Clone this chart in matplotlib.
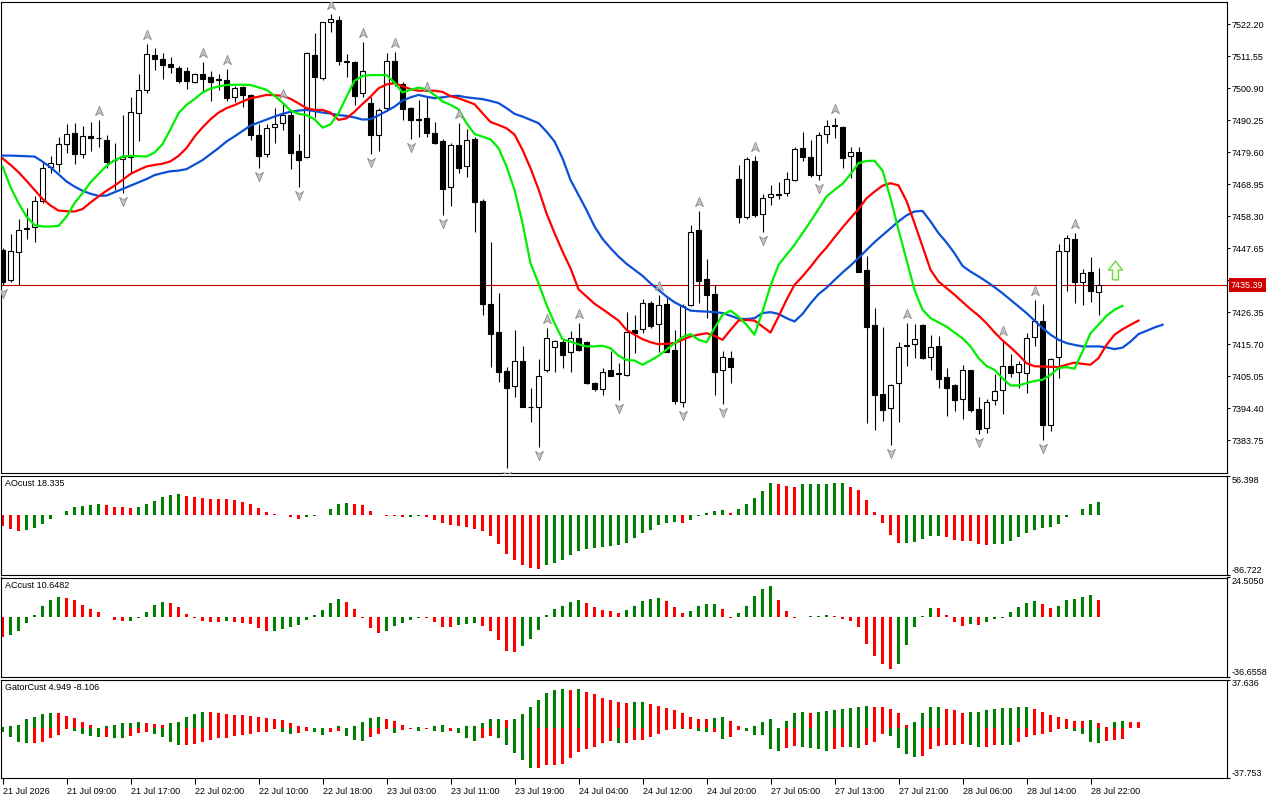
import numpy as np
import matplotlib
matplotlib.use("Agg")
import matplotlib.pyplot as plt
from matplotlib.path import Path
from matplotlib.transforms import blended_transform_factory, offset_copy

plt.rcParams['font.family'] = ['Liberation Sans', 'DejaVu Sans']
plt.rcParams['font.size'] = 6.5

# ---- H1 candles (bar 0 = 21 Jul 01:00) ----
opens = [7447.1, 7437.1, 7446.4, 7454.3, 7454.6, 7463.3, 7474.6, 7475.6, 7482.3, 7485.9,
         7479.2, 7484.9, 7484.4, 7483.7, 7477.1, 7477.3, 7478.2, 7492.6, 7500.4, 7512.0,
         7510.6, 7509.0, 7507.8, 7506.7, 7502.9, 7505.7, 7504.6, 7503.9, 7503.7, 7497.9,
         7501.2, 7498.7, 7485.4, 7479.0, 7487.9, 7489.3, 7492.0, 7480.1, 7478.2, 7512.0,
         7504.2, 7522.9, 7523.6, 7509.9, 7509.8, 7499.3, 7495.9, 7485.5, 7494.2, 7510.0,
         7502.2, 7494.5, 7490.7, 7490.9, 7485.9, 7483.4, 7467.9, 7482.1, 7474.9, 7484.1,
         7463.4, 7429.1, 7419.8, 7406.9, 7401.7, 7410.2, 7394.9, 7395.0, 7407.2, 7414.7,
         7416.6, 7413.1, 7417.7, 7416.6, 7402.8, 7400.8, 7407.0, 7406.0, 7405.5, 7420.5,
         7420.7, 7429.4, 7422.4, 7429.1, 7413.9, 7396.4, 7428.8, 7453.8, 7437.4, 7432.4,
         7407.2, 7411.1, 7470.7, 7458.0, 7476.7, 7459.0, 7464.6, 7465.8, 7466.0, 7470.4,
         7481.0, 7478.0, 7471.9, 7485.6, 7488.7, 7487.9, 7478.4, 7479.6, 7440.5, 7422.2,
         7399.1, 7394.5, 7402.8, 7415.4, 7415.7, 7422.0, 7411.4, 7415.2, 7404.8, 7402.0,
         7397.4, 7407.2, 7394.2, 7387.8, 7397.0, 7400.6, 7408.5, 7406.4, 7406.1, 7418.0,
         7423.5, 7388.7, 7411.4, 7446.9, 7450.7, 7436.6, 7439.7, 7433.0]
highs = [7447.7, 7452.3, 7457.3, 7461.0, 7464.9, 7476.3, 7478.4, 7484.8, 7488.9, 7489.5,
         7488.4, 7489.8, 7490.3, 7485.3, 7482.6, 7492.0, 7498.1, 7505.7, 7515.7, 7514.2,
         7512.8, 7511.2, 7508.3, 7508.1, 7506.1, 7509.8, 7506.8, 7505.7, 7507.3, 7501.7,
         7501.7, 7499.0, 7488.9, 7488.9, 7494.3, 7495.9, 7493.7, 7485.7, 7513.1, 7519.2,
         7523.1, 7525.6, 7525.1, 7512.3, 7509.9, 7516.4, 7498.1, 7494.3, 7512.8, 7513.1,
         7503.1, 7494.8, 7497.0, 7498.5, 7489.8, 7484.1, 7482.6, 7489.3, 7487.3, 7484.8,
         7464.0, 7449.9, 7432.7, 7408.0, 7420.5, 7415.2, 7401.1, 7410.8, 7421.1, 7417.2,
         7417.2, 7420.2, 7422.7, 7416.9, 7403.0, 7407.8, 7413.6, 7409.4, 7426.4, 7425.5,
         7430.7, 7430.2, 7432.2, 7431.0, 7420.5, 7429.1, 7455.4, 7460.2, 7444.0, 7435.5,
         7413.5, 7413.5, 7475.4, 7478.2, 7478.5, 7465.6, 7468.8, 7469.6, 7473.0, 7481.3,
         7486.3, 7483.7, 7486.5, 7490.2, 7490.9, 7488.4, 7481.2, 7481.5, 7445.2, 7427.7,
         7421.6, 7402.4, 7416.6, 7422.7, 7422.4, 7422.4, 7418.9, 7418.6, 7407.8, 7402.4,
         7408.9, 7407.2, 7398.1, 7397.6, 7405.8, 7417.2, 7412.5, 7410.2, 7419.4, 7430.5,
         7429.1, 7411.1, 7449.0, 7452.1, 7452.7, 7440.7, 7444.7, 7441.0]
lows = [7435.4, 7436.3, 7435.3, 7450.9, 7449.9, 7462.7, 7472.6, 7473.2, 7479.5, 7475.6,
        7477.6, 7480.2, 7481.2, 7474.5, 7467.1, 7466.2, 7472.6, 7483.2, 7499.3, 7507.0,
        7504.0, 7505.9, 7502.6, 7500.8, 7502.6, 7500.1, 7496.8, 7500.4, 7496.8, 7496.5,
        7494.6, 7483.7, 7474.5, 7478.2, 7482.8, 7487.1, 7474.0, 7467.9, 7477.6, 7491.2,
        7503.7, 7519.8, 7508.5, 7504.8, 7495.4, 7498.1, 7479.1, 7480.2, 7493.2, 7501.8,
        7490.2, 7483.9, 7484.8, 7484.6, 7482.4, 7458.6, 7461.8, 7472.6, 7471.5, 7453.2,
        7425.5, 7408.0, 7403.3, 7374.5, 7398.3, 7394.8, 7389.7, 7381.4, 7406.4, 7406.4,
        7407.8, 7406.6, 7413.6, 7402.5, 7400.2, 7398.7, 7405.0, 7397.2, 7405.2, 7412.8,
        7419.4, 7421.1, 7413.3, 7413.0, 7395.8, 7395.0, 7428.5, 7429.4, 7424.6, 7398.7,
        7395.8, 7402.8, 7456.2, 7457.4, 7458.2, 7453.2, 7462.1, 7464.0, 7464.9, 7470.1,
        7476.7, 7471.5, 7470.4, 7482.6, 7484.5, 7474.3, 7471.0, 7439.7, 7389.5, 7387.2,
        7390.2, 7382.3, 7390.0, 7408.6, 7411.1, 7410.9, 7407.0, 7401.1, 7391.7, 7393.6,
        7390.9, 7393.1, 7385.8, 7386.1, 7395.6, 7392.5, 7404.8, 7401.1, 7399.4, 7415.3,
        7383.9, 7386.7, 7404.4, 7433.6, 7429.6, 7428.8, 7429.9, 7425.3]
closes = [7436.6, 7446.6, 7453.8, 7454.0, 7463.3, 7474.3, 7476.0, 7482.3, 7485.6, 7479.2,
          7484.9, 7484.4, 7484.2, 7476.5, 7477.0, 7478.0, 7492.9, 7500.4, 7512.3, 7510.7,
          7508.5, 7507.9, 7503.4, 7503.4, 7505.7, 7504.1, 7503.1, 7503.7, 7497.6, 7500.9,
          7498.7, 7485.2, 7478.5, 7487.7, 7488.9, 7492.0, 7479.5, 7476.9, 7512.6, 7504.5,
          7522.9, 7523.9, 7510.1, 7509.6, 7498.5, 7506.7, 7485.5, 7493.7, 7510.0, 7502.6,
          7494.0, 7490.2, 7490.5, 7485.9, 7482.8, 7467.4, 7482.1, 7474.3, 7483.7, 7463.2,
          7429.1, 7419.1, 7406.6, 7401.3, 7410.2, 7395.0, 7394.7, 7405.2, 7417.7, 7416.9,
          7412.0, 7417.7, 7413.9, 7402.8, 7400.8, 7406.4, 7405.3, 7405.8, 7419.7, 7419.4,
          7429.4, 7421.8, 7428.8, 7413.3, 7396.7, 7428.5, 7453.0, 7436.8, 7432.2, 7406.4,
          7411.4, 7408.3, 7458.0, 7477.3, 7458.6, 7464.3, 7465.8, 7465.5, 7470.6, 7480.6,
          7478.2, 7471.9, 7485.4, 7488.5, 7488.3, 7477.8, 7479.6, 7439.9, 7421.3, 7398.7,
          7393.9, 7402.2, 7414.7, 7415.2, 7417.4, 7411.3, 7414.7, 7404.1, 7401.1, 7397.0,
          7407.2, 7393.9, 7387.5, 7396.4, 7400.0, 7408.6, 7406.3, 7409.1, 7417.7, 7423.5,
          7388.7, 7410.8, 7446.6, 7451.0, 7436.3, 7439.4, 7433.3, 7435.39]

# ---- Alligator (already shifted: jaw +8, teeth +5, lips +3) ----
jaw = [7478.5, 7478.5, 7478.4, 7478.3, 7478.2, 7476.5, 7474.6, 7472.3, 7469.9, 7468.2,
       7466.8, 7465.8, 7465.1, 7465.2, 7466.3, 7467.4, 7468.5, 7469.6, 7470.7, 7472.0,
       7472.7, 7473.3, 7473.5, 7474.0, 7475.5, 7477.0, 7479.0, 7481.0, 7483.2, 7484.9,
       7486.7, 7488.5, 7489.5, 7490.5, 7491.5, 7492.4, 7493.1, 7493.5, 7493.7, 7493.3,
       7492.8, 7492.5, 7492.0, 7491.7, 7491.2, 7490.5, 7490.6, 7491.9, 7493.3, 7494.8,
       7496.8, 7497.9, 7498.7, 7498.1, 7497.6, 7497.9, 7498.3, 7498.4, 7497.9, 7497.6,
       7497.3, 7496.7, 7496.0, 7494.3, 7492.4, 7491.5, 7490.4, 7489.3, 7486.5, 7483.2,
       7477.6, 7470.4, 7465.4, 7460.4, 7454.9, 7450.8, 7447.7, 7444.9, 7442.5, 7440.5,
       7438.5, 7436.0, 7433.8, 7431.6, 7429.7, 7428.3, 7426.9, 7426.7, 7426.6, 7426.4,
       7426.1, 7425.2, 7424.2, 7424.1, 7424.4, 7426.1, 7426.4, 7425.8, 7424.4, 7423.3,
       7425.8, 7429.3, 7432.4, 7434.5, 7437.1, 7439.6, 7441.9, 7444.4, 7447.1, 7449.7,
       7452.0, 7454.3, 7456.6, 7458.6, 7459.9, 7460.1, 7456.6, 7452.7, 7449.6, 7446.0,
       7441.8, 7439.9, 7438.3, 7436.6, 7434.7, 7432.7, 7430.5, 7428.3, 7426.1, 7423.6,
       7421.1, 7418.9, 7417.2, 7416.1, 7415.5, 7415.0, 7415.0, 7415.0, 7414.7, 7414.1,
       7414.6, 7416.6, 7419.1, 7420.2, 7421.3, 7422.2]
teeth = [7477.6, 7475.4, 7473.0, 7470.1, 7467.1, 7464.1, 7461.9, 7460.2, 7460.0, 7459.9,
         7460.7, 7462.9, 7464.9, 7466.8, 7468.5, 7470.4, 7472.4, 7473.7, 7474.9, 7475.4,
         7475.8, 7476.6, 7478.4, 7481.0, 7484.8, 7487.9, 7490.6, 7492.8, 7494.3, 7495.3,
         7496.5, 7497.6, 7498.1, 7498.7, 7498.6, 7498.4, 7497.4, 7495.9, 7494.3, 7493.7,
         7493.7, 7492.8, 7490.4, 7490.9, 7493.1, 7495.7, 7498.1, 7500.9, 7502.2, 7502.6,
         7501.6, 7500.6, 7500.1, 7500.1, 7500.1, 7499.7, 7498.3, 7497.6, 7496.6, 7495.6,
         7492.6, 7489.7, 7488.7, 7487.6, 7485.5, 7480.4, 7474.3, 7467.3, 7459.3, 7452.7,
         7446.6, 7441.0, 7434.0, 7431.6, 7429.2, 7427.4, 7425.5, 7423.6, 7420.5, 7418.9,
         7417.4, 7416.4, 7415.7, 7415.9, 7416.1, 7417.2, 7418.3, 7418.9, 7419.4, 7418.5,
         7417.2, 7420.5, 7423.6, 7423.8, 7423.6, 7421.6, 7419.6, 7424.9, 7430.5, 7435.5,
         7438.3, 7441.5, 7444.9, 7447.9, 7451.3, 7454.6, 7457.7, 7460.7, 7464.3, 7466.5,
         7468.5, 7469.3, 7468.6, 7463.4, 7456.0, 7448.2, 7440.5, 7436.6, 7434.4, 7432.2,
         7429.8, 7427.4, 7425.3, 7422.7, 7419.7, 7417.0, 7414.7, 7412.2, 7409.4, 7408.4,
         7408.3, 7408.2, 7408.1, 7408.9, 7409.6, 7409.2, 7408.9, 7411.1, 7415.5, 7418.9,
         7420.7, 7422.2, 7423.6]
lips = [7474.9, 7468.0, 7462.7, 7458.2, 7455.4, 7454.9, 7454.9, 7455.1, 7458.2, 7462.7,
        7466.0, 7469.6, 7472.4, 7475.1, 7476.9, 7478.2, 7478.4, 7478.3, 7478.2, 7479.5,
        7482.3, 7487.3, 7492.6, 7495.4, 7497.3, 7499.5, 7500.8, 7501.5, 7502.0, 7502.1,
        7502.1, 7502.0, 7501.2, 7500.4, 7498.4, 7496.1, 7493.5, 7492.4, 7492.0, 7490.6,
        7487.8, 7488.9, 7492.6, 7498.1, 7503.4, 7505.0, 7505.3, 7505.3, 7505.3, 7502.8,
        7499.5, 7500.4, 7501.1, 7500.6, 7498.7, 7496.5, 7495.4, 7493.9, 7489.3, 7485.7,
        7484.8, 7483.9, 7481.0, 7474.9, 7467.1, 7456.0, 7442.7, 7436.0, 7428.8, 7422.7,
        7417.4, 7416.6, 7415.7, 7415.0, 7415.0, 7415.2, 7414.4, 7411.9, 7410.5, 7410.3,
        7408.9, 7410.3, 7411.9, 7413.9, 7416.1, 7418.1, 7419.1, 7417.2, 7416.4, 7421.1,
        7425.5, 7426.9, 7424.9, 7422.2, 7418.9, 7426.6, 7435.2, 7442.1, 7445.5, 7448.8,
        7452.7, 7456.6, 7460.7, 7464.9, 7467.1, 7469.1, 7472.3, 7476.0, 7476.7, 7476.8,
        7473.5, 7464.3, 7453.8, 7443.8, 7433.8, 7427.2, 7424.4, 7423.0, 7421.6, 7419.6,
        7417.7, 7415.0, 7411.1, 7408.5, 7407.2, 7404.4, 7402.0, 7402.0, 7402.8, 7403.5,
        7403.9, 7405.5, 7407.8, 7408.1, 7407.6, 7413.3, 7419.4, 7422.2, 7425.2, 7427.2,
        7428.5]

up_fractals = [12, 18, 25, 28, 35, 41, 45, 49, 53, 57, 68, 72, 82, 87, 94, 104, 113, 125, 129, 134]
down_fractals = [0, 15, 32, 37, 46, 51, 55, 63, 67, 77, 85, 90, 95, 102, 111, 122, 130]
signal_bar = 139
signal_price = 7440.4
last_price = 7435.39

# ---- oscillators ----
ao = [-16.0, -21.0, -23.5, -22.0, -19.0, -13.0, -6.0, -1.0, 6.0, 10.5,
      12.5, 13.5, 15.0, 13.5, 11.0, 10.5, 9.5, 11.0, 15.0, 19.5,
      26.0, 28.5, 30.0, 27.5, 26.0, 24.0, 23.0, 22.5, 22.2, 21.0,
      18.0, 15.0, 9.5, 4.5, 1.5, -0.5, -4.0, -5.5, -4.0, -2.5,
      -1.0, 7.5, 15.0, 16.5, 16.0, 13.5, 6.0, -1.0, -1.5, -2.5,
      -3.5, -3.2, -2.5, -4.0, -7.0, -11.5, -14.5, -16.0, -18.0, -20.5,
      -23.5, -31.0, -41.5, -57.0, -65.5, -72.0, -76.0, -78.0, -72.0, -69.0,
      -64.5, -58.5, -52.0, -50.0, -48.0, -46.0, -44.5, -43.0, -40.5, -34.0,
      -27.0, -22.0, -14.5, -12.0, -10.0, -11.5, -7.0, -1.5, 3.0, 6.0,
      6.2, 3.0, 7.5, 15.0, 24.5, 34.5, 45.0, 43.5, 42.0, 40.5,
      43.5, 43.7, 43.9, 44.5, 45.0, 45.3, 40.5, 36.0, 21.0, 4.5,
      -12.0, -28.5, -40.5, -40.3, -39.0, -35.5, -31.0, -30.0, -32.5, -36.0,
      -37.5, -38.5, -42.0, -43.0, -42.0, -41.5, -37.5, -32.5, -27.0, -22.0,
      -19.0, -17.5, -13.0, -4.0, -0.5, 7.5, 15.0, 18.335]
ac = [-12.0, -11.0, -8.5, -3.5, 1.4, 7.0, 10.8, 12.4, 11.8, 10.8,
      7.5, 5.2, 3.1, 0.2, -1.7, -2.3, -2.2, -0.4, 3.1, 7.5,
      9.3, 8.7, 6.2, 1.9, -0.2, -2.3, -2.9, -3.0, -2.3, -2.9,
      -3.5, -4.3, -6.6, -8.5, -8.4, -7.2, -6.0, -4.8, -1.7, 1.4,
      4.6, 8.7, 11.2, 9.3, 5.2, -0.4, -6.6, -9.7, -8.5, -5.4,
      -3.5, -1.7, -0.4, -0.5, -2.9, -6.0, -6.1, -4.8, -4.1, -3.5,
      -5.4, -8.5, -14.1, -20.9, -21.5, -17.8, -13.5, -7.9, 1.2, 5.2,
      6.8, 9.3, 10.6, 8.7, 6.2, 4.3, 3.7, 2.5, 4.3, 6.8,
      9.9, 11.2, 11.8, 9.9, 6.2, 2.5, 3.7, 6.8, 8.1, 8.2,
      5.0, -0.2, 2.5, 6.8, 13.0, 17.4, 19.3, 10.8, 3.7, -0.2,
      0.2, 0.6, 1.0, 1.7, 1.0, -1.2, -2.5, -6.2, -16.1, -24.0,
      -28.6, -31.7, -28.6, -16.8, -6.2, 0.6, 5.6, 5.5, 1.2, -3.1,
      -5.0, -4.3, -4.4, -2.9, -1.2, -0.4, 3.1, 6.2, 8.7, 9.9,
      8.1, 5.6, 6.8, 10.6, 11.2, 12.4, 13.7, 10.6482]
gator_up = [1.0, 1.7, 2.9, 6.9, 8.8, 11.0, 11.8, 11.7, 9.3, 7.8,
            5.1, 2.9, 0.5, 2.0, 2.9, 3.9, 4.4, 5.1, 4.4, 3.7,
            2.9, 3.9, 5.1, 8.8, 11.0, 12.7, 12.6, 11.8, 11.3, 10.3,
            10.2, 9.6, 8.8, 7.8, 7.6, 6.1, 4.4, 2.2, 1.0, 0.5,
            0.7, 0.2, 1.5, 0.7, 1.5, 5.1, 8.1, 9.1, 6.9, 5.4,
            2.5, 0.7, 0.8, 0.7, 2.2, 2.3, 0.7, 0.6, 1.7, 2.2,
            4.4, 6.9, 7.3, 6.7, 6.9, 11.1, 16.1, 22.0, 27.2, 29.5,
            30.0, 29.6, 30.2, 27.7, 26.5, 23.4, 21.8, 20.6, 19.8, 20.0,
            20.6, 19.1, 17.6, 15.9, 14.0, 11.8, 8.8, 7.4, 6.9, 8.1,
            8.8, 5.9, 1.5, 0.7, 1.5, 5.1, 7.4, 0.7, 5.9, 11.8,
            12.5, 12.2, 12.5, 13.4, 14.2, 15.0, 15.8, 16.3, 17.2, 16.8,
            16.5, 15.0, 12.0, 3.0, 5.0, 11.9, 16.1, 16.2, 15.2, 13.8,
            12.0, 12.5, 13.0, 13.9, 15.0, 15.7, 15.8, 16.1, 16.7, 15.2,
            12.8, 10.7, 9.1, 7.2, 5.9, 5.8, 6.1, 3.9, 0.8, 4.6,
            5.5, 5.25, 4.949]
gator_down = [2.7, 6.6, 10.3, 11.0, 10.9, 10.3, 7.4, 5.1, 0.7, 2.0,
              4.4, 5.9, 6.6, 6.5, 7.4, 7.5, 5.9, 3.4, 2.9, 4.4,
              6.6, 10.3, 12.5, 12.4, 12.0, 10.3, 8.8, 7.6, 7.3, 5.9,
              5.1, 4.2, 2.9, 2.7, 0.7, 2.7, 4.4, 3.4, 2.0, 2.7,
              5.1, 2.7, 2.0, 5.6, 8.8, 9.6, 6.6, 4.2, 0.7, 3.4,
              1.2, 0.7, 2.0, 0.7, 2.2, 2.4, 2.2, 3.4, 7.4, 9.6,
              7.4, 5.9, 7.7, 12.7, 19.0, 24.4, 30.6, 30.3, 28.5, 27.8,
              27.0, 23.0, 18.0, 15.5, 14.0, 11.5, 10.0, 11.5, 11.0, 9.0,
              8.6, 6.5, 4.2, 1.5, 0.6, 0.8, 0.7, 1.7, 3.0, 2.6,
              7.8, 6.4, 1.3, 1.6, 4.7, 5.0, 15.6, 17.2, 15.0, 13.3,
              14.4, 15.1, 15.8, 17.0, 15.8, 14.5, 14.6, 15.3, 12.4, 10.3,
              4.4, 5.6, 14.8, 19.6, 22.2, 21.0, 16.1, 13.6, 12.8, 12.6,
              12.1, 12.4, 14.2, 14.1, 12.5, 12.6, 12.7, 10.2, 6.6, 4.9,
              4.4, 2.7, 0.3, 0.8, 2.0, 4.1, 10.5, 11.1, 9.7, 8.6,
              8.106]

tick_bars = list(range(0, 137, 8))
tick_labels = ['21 Jul 2026', '21 Jul 09:00', '21 Jul 17:00', '22 Jul 02:00', '22 Jul 10:00',
               '22 Jul 18:00', '23 Jul 03:00', '23 Jul 11:00', '23 Jul 19:00', '24 Jul 04:00',
               '24 Jul 12:00', '24 Jul 20:00', '27 Jul 05:00', '27 Jul 13:00', '27 Jul 21:00',
               '28 Jul 06:00', '28 Jul 14:00', '28 Jul 22:00']
price_ticks = [7522.20 - 10.65 * k for k in range(14)]

GREEN = '#008000'
RED = '#ff0000'


def change_colors(vals, first, use_abs=False):
    cols = [first]
    for a, b in zip(vals[:-1], vals[1:]):
        if use_abs:
            a, b = abs(a), abs(b)
        cols.append(GREEN if b > a else RED)
    return cols


W, H = 1280, 800
fig = plt.figure(figsize=(W / 100, H / 100), dpi=100)
fig.patch.set_facecolor('white')


def box(top, bottom):
    return [1 / W, 1 - bottom / H, 1226 / W, (bottom - top) / H]


ax = fig.add_axes(box(1.5, 473))
ax_ao = fig.add_axes(box(475.5, 575), sharex=ax)
ax_ac = fig.add_axes(box(577.5, 677), sharex=ax)
ax_gt = fig.add_axes(box(679.5, 777.5), sharex=ax)

for a in (ax, ax_ao, ax_ac, ax_gt):
    a.yaxis.tick_right()
    a.tick_params(axis='y', direction='out', length=2.2, width=0.8, pad=0.8, labelsize=6.5)
    a.tick_params(axis='x', bottom=False, labelbottom=False)
    for s in a.spines.values():
        s.set_linewidth(0.8)

# ---- main chart ----
x = np.arange(len(opens))
o, h, l, c = map(np.array, (opens, highs, lows, closes))
ax.vlines(x, l, h, color='black', linewidth=0.8, zorder=2)
bull = c >= o
lo = np.minimum(o, c)
bh = np.maximum(np.abs(c - o), 0.12)
ax.bar(x[bull], bh[bull], bottom=lo[bull], width=0.55, facecolor='white',
       edgecolor='black', linewidth=0.8, zorder=3)
ax.bar(x[~bull], bh[~bull], bottom=lo[~bull], width=0.55, facecolor='black',
       edgecolor='black', linewidth=0.8, zorder=3)

ax.axhline(last_price, color='#c00000', linewidth=0.8, zorder=1)
ax.plot(np.arange(len(jaw)), jaw, color='#0b4fd6', linewidth=1.6, zorder=4)
ax.plot(np.arange(len(teeth)), teeth, color='#ff0000', linewidth=1.6, zorder=4)
ax.plot(np.arange(len(lips)), lips, color='#00ee00', linewidth=1.6, zorder=4)

arrow_up = Path([(0, 1), (0.75, -0.8), (0, -0.3), (-0.75, -0.8), (0, 1)],
                [Path.MOVETO, Path.LINETO, Path.LINETO, Path.LINETO, Path.CLOSEPOLY])
arrow_dn = Path([(0, -1), (0.75, 0.8), (0, 0.3), (-0.75, 0.8), (0, -1)],
                [Path.MOVETO, Path.LINETO, Path.LINETO, Path.LINETO, Path.CLOSEPOLY])
ax.plot(up_fractals, h[up_fractals], linestyle='none', marker=arrow_up, markersize=7.5,
        mfc='#c4c4c4', mec='#8c8c8c', mew=0.6, zorder=6,
        transform=offset_copy(ax.transData, fig=fig, y=9, units='dots'))
ax.plot(down_fractals, l[down_fractals], linestyle='none', marker=arrow_dn, markersize=7.5,
        mfc='#c4c4c4', mec='#8c8c8c', mew=0.6, zorder=6,
        transform=offset_copy(ax.transData, fig=fig, y=-8, units='dots'))

block_up = Path([(-0.32, -1), (0.32, -1), (0.32, 0.05), (0.75, 0.05), (0, 1),
                 (-0.75, 0.05), (-0.32, 0.05), (-0.32, -1)])
ax.plot([signal_bar], [signal_price], linestyle='none', marker=block_up, markersize=13.5,
        mfc='#f2fbe8', mec='#6fd84a', mew=1.0, zorder=7)

ax.set_xlim(-0.19, 153.06)
ax.set_ylim(7372.87, 7529.79)
ax.set_yticks(price_ticks)
ax.set_yticklabels(['%.2f' % p for p in price_ticks])

tr = blended_transform_factory(ax.transAxes, ax.transData)
ax.text(1.0 + 4 / 1226, last_price, '%.2f' % last_price, transform=tr, ha='left', va='center',
        color='white', fontsize=6.5, zorder=10, clip_on=False,
        bbox=dict(boxstyle='square,pad=0.25', fc='#d00000', ec='none'))


def edge_ticks(a, lo_v, hi_v, fmt):
    a.set_ylim(lo_v, hi_v)
    a.set_yticks([lo_v, hi_v])
    a.set_yticklabels([fmt % lo_v, fmt % hi_v])
    t = a.yaxis.get_major_ticks()
    t[0].label2.set_verticalalignment('bottom')
    t[1].label2.set_verticalalignment('top')


def title(a, s):
    a.annotate(s, xy=(0, 1), xycoords='axes fraction', xytext=(4, -3),
               textcoords='offset pixels', ha='left', va='top', fontsize=6.5)


# ---- AO ----
ax_ao.bar(np.arange(len(ao)), ao, width=0.45, color=change_colors(ao, RED), linewidth=0)
edge_ticks(ax_ao, -86.722, 56.398, '%.3f')
title(ax_ao, 'AOcust %.3f' % ao[-1])

# ---- AC ----
ax_ac.bar(np.arange(len(ac)), ac, width=0.45, color=change_colors(ac, RED), linewidth=0)
edge_ticks(ax_ac, -36.6558, 24.5050, '%.4f')
title(ax_ac, 'ACcust %.4f' % ac[-1])

# ---- Gator ----
gu = np.array(gator_up)
gd = np.array(gator_down)
ax_gt.bar(np.arange(len(gu)), gu, width=0.45, color=change_colors(gator_up, GREEN, True), linewidth=0)
ax_gt.bar(np.arange(len(gd)), -gd, width=0.45, color=change_colors(gator_down, GREEN, True), linewidth=0)
edge_ticks(ax_gt, -37.753, 37.636, '%.3f')
title(ax_gt, 'GatorCust %.3f %.3f' % (gator_up[-1], -gator_down[-1]))

ax_gt.tick_params(axis='x', bottom=True, labelbottom=True, direction='out', length=4,
                  width=0.8, pad=2.5, labelsize=6.5)
ax_gt.set_xticks(tick_bars)
ax_gt.set_xticklabels(tick_labels, ha='left')

fig.savefig('out.png', dpi=100, facecolor='white')
